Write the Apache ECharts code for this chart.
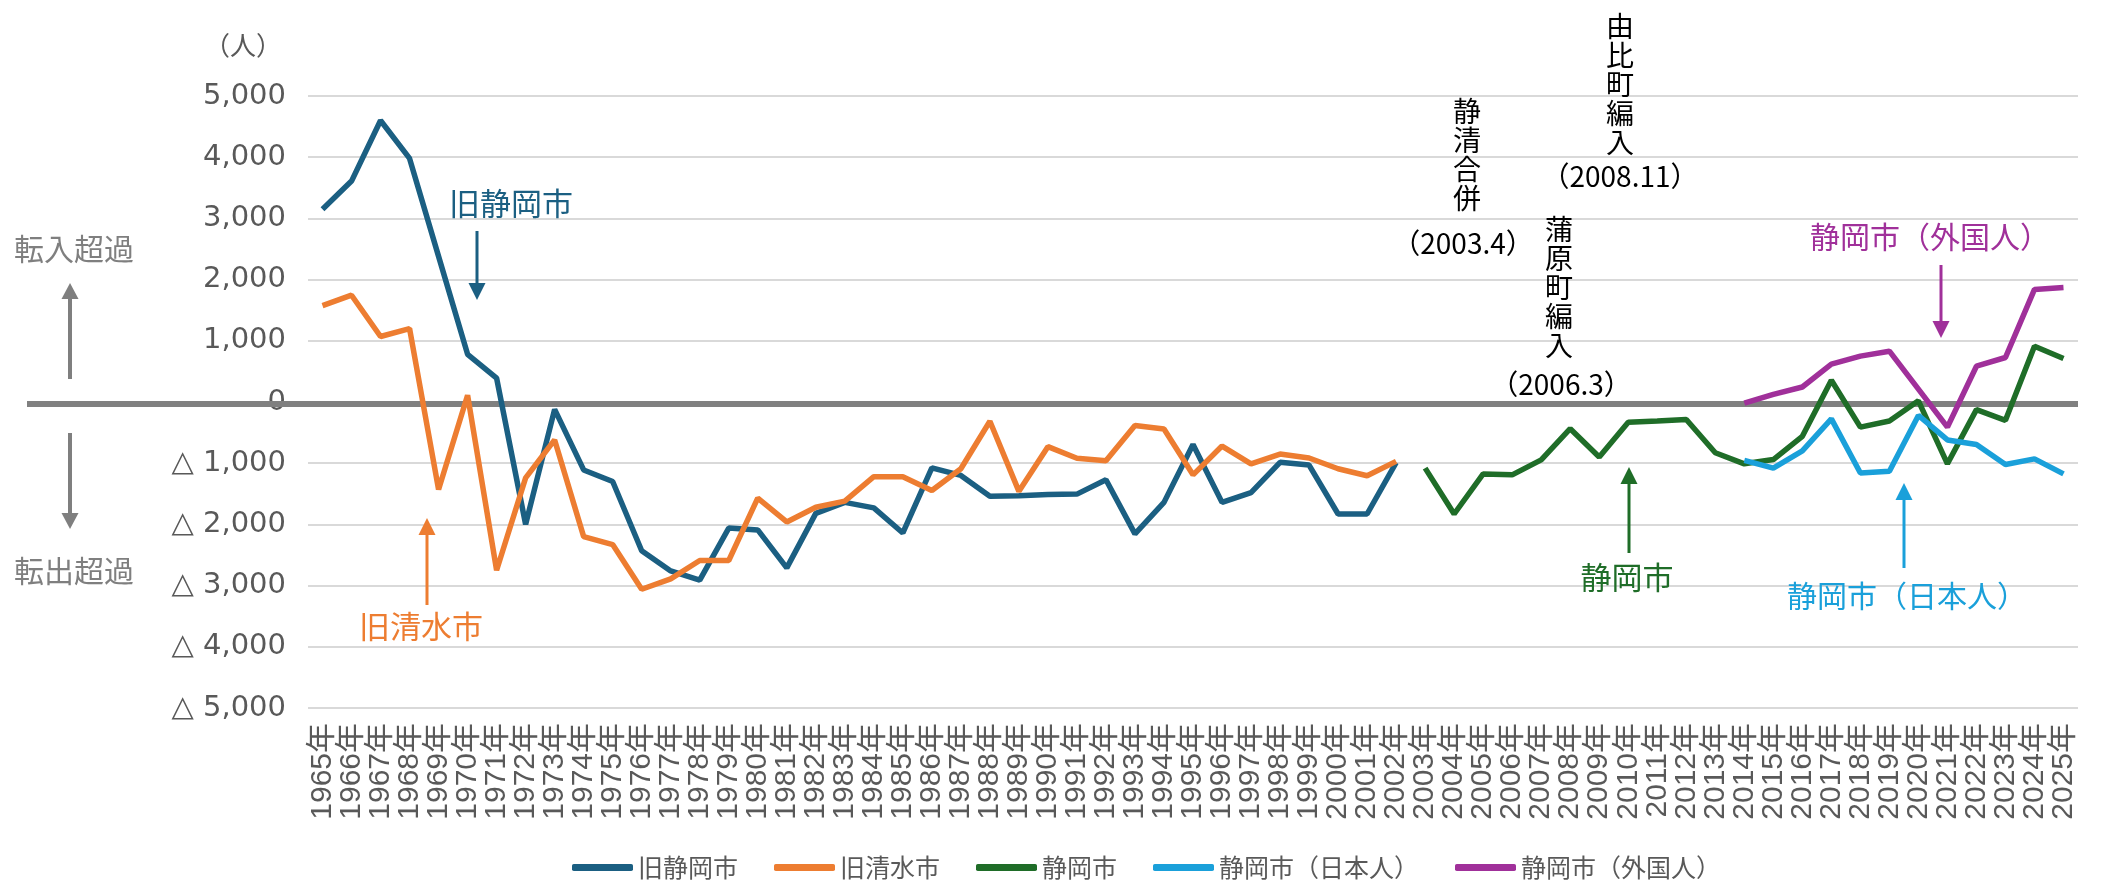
<!DOCTYPE html>
<html>
<head>
<meta charset="utf-8">
<script src="https://cdn.jsdelivr.net/npm/echarts@6/dist/echarts.min.js"></script>
<style>
    html, body { margin: 0; padding: 0; background: #fff; }
    #chart { width: 2121px; height: 883px; }
</style>
</head>
<body>
<div id="chart"></div>
<script>
const years = [
    '1965年', '1966年', '1967年', '1968年', '1969年', '1970年', '1971年', '1972年', '1973年', '1974年',
    '1975年', '1976年', '1977年', '1978年', '1979年', '1980年', '1981年', '1982年', '1983年', '1984年',
    '1985年', '1986年', '1987年', '1988年', '1989年', '1990年', '1991年', '1992年', '1993年', '1994年',
    '1995年', '1996年', '1997年', '1998年', '1999年', '2000年', '2001年', '2002年', '2003年', '2004年',
    '2005年', '2006年', '2007年', '2008年', '2009年', '2010年', '2011年', '2012年', '2013年', '2014年',
    '2015年', '2016年', '2017年', '2018年', '2019年', '2020年', '2021年', '2022年', '2023年', '2024年',
    '2025年'
];

// 1965年〜2002年
const oldShizuoka = [
    3150, 3610, 4600, 3980, 2380, 780, 390, -2000, -120, -1110,
    -1300, -2430, -2760, -2910, -2060, -2090, -2710, -1820, -1640, -1730,
    -2140, -1075, -1200, -1540, -1530, -1510, -1505, -1270, -2155, -1640,
    -695, -1640, -1480, -985, -1030, -1830, -1830, -990
];
// 1965年〜2002年
const oldShimizu = [
    1575, 1745, 1070, 1200, -1430, 110, -2750, -1240, -620, -2200,
    -2330, -3060, -2890, -2590, -2590, -1570, -1960, -1720, -1620, -1220,
    -1220, -1445, -1090, -315, -1460, -730, -920, -960, -385, -440,
    -1190, -720, -1010, -850, -915, -1090, -1205, -970
];
// 2003年〜2025年
const shizuoka = [
    -1080, -1830, -1175, -1190, -945, -437, -900, -330, -310, -285,
    -830, -1010, -940, -560, 355, -410, -310, 20, -1010, -125,
    -300, 910, 710
];
// 2014年〜2025年
const shizuokaJapanese = [-955, -1080, -800, -275, -1160, -1130, -220, -620, -695, -1020, -930, -1175];
const shizuokaForeign = [-20, 125, 245, 620, 750, 830, 210, -410, 585, 727, 1840, 1870];

const yTicks = [-5000, -4000, -3000, -2000, -1000, 0, 1000, 2000, 3000, 4000, 5000];

const names = ['旧静岡市', '旧清水市', '静岡市', '静岡市（日本人）', '静岡市（外国人）'];
const colors = ['#1b5f82', '#ed7d31', '#1f6d28', '#1aa0da', '#a0309a'];

const cjk = '"Noto Sans CJK JP"';
const labelGrey = '#595959';

function place(values, startYear) {
    let start = years.indexOf(startYear + '年');
    return years.map((y, i) => {
        let k = i - start;
        return k >= 0 && k < values.length ? values[k] : null;
    });
}

function fmt(v) {
    if (v === 0) return '0';
    let s = Math.abs(v).toLocaleString('en-US');
    return v < 0 ? '△ ' + s : s;
}

let chart = echarts.init(document.getElementById('chart'));

let seriesData = [
    place(oldShizuoka, 1965),
    place(oldShimizu, 1965),
    place(shizuoka, 2003),
    place(shizuokaJapanese, 2014),
    place(shizuokaForeign, 2014)
];

let option = {
    animation: false,
    grid: { left: 308, right: 43, top: 96, bottom: 175, containLabel: false, outerBoundsMode: 'none' },
    legend: {
        data: names,
        left: 572,
        top: 855,
        padding: 0,
        icon: 'roundRect',
        itemWidth: 61,
        itemHeight: 7,
        itemGap: 36,
        textStyle: { fontSize: 25, color: labelGrey, fontFamily: cjk }
    },
    xAxis: {
        type: 'category',
        data: years,
        boundaryGap: true,
        axisLine: { show: false, onZero: false },
        axisTick: { show: false },
        axisLabel: {
            interval: 0,
            rotate: 90,
            margin: 15,
            fontSize: 30,
            color: labelGrey,
            fontFamily: '"Liberation Sans", ' + cjk
        }
    },
    yAxis: {
        type: 'value',
        min: yTicks[0],
        max: yTicks[yTicks.length - 1],
        interval: 1000,
        axisLine: { show: false },
        axisTick: { show: false },
        splitLine: { lineStyle: { color: '#d9d9d9', width: 2 } },
        axisLabel: {
            margin: 22,
            fontSize: 29,
            color: labelGrey,
            fontFamily: '"DejaVu Sans"',
            formatter: fmt
        }
    },
    series: names.map((n, i) => ({
        name: n,
        type: 'line',
        data: seriesData[i],
        symbol: 'none',
        z: 3,
        lineStyle: { color: colors[i], width: 5.5 },
        itemStyle: { color: colors[i] }
    }))
};
chart.setOption(option);

function arrow(x, yFrom, yTo, color, width, headW, headL) {
    let dir = yTo > yFrom ? 1 : -1;
    let base = yTo - dir * headL;
    return [
        { type: 'line', z: 10, shape: { x1: x, y1: yFrom, x2: x, y2: base }, style: { stroke: color, lineWidth: width } },
        { type: 'polygon', z: 10, shape: { points: [[x - headW / 2, base], [x + headW / 2, base], [x, yTo]] }, style: { fill: color } }
    ];
}

function text(str, x, y, color, size, opts) {
    opts = opts || {};
    return {
        type: 'text', z: 10, x: x, y: y,
        style: {
            text: str,
            fill: color,
            fontSize: size,
            fontFamily: cjk,
            textAlign: 'center',
            textVerticalAlign: opts.va || 'middle',
            lineHeight: opts.lh || size
        }
    };
}

let y0 = chart.convertToPixel({ yAxisIndex: 0 }, 0);

let graphics = [
    { type: 'line', z: 1, shape: { x1: 27, y1: y0 + 2, x2: 2078, y2: y0 + 2 }, style: { stroke: '#808080', lineWidth: 6 } },
    text('（人）', 243, 45, labelGrey, 26),
    text('転入超過', 74, 249, '#7f7f7f', 30),
    text('転出超過', 74, 571, '#7f7f7f', 30),
    ...arrow(70, 379, 283, '#7f7f7f', 4, 17, 16),
    ...arrow(70, 433, 529, '#7f7f7f', 4, 17, 16),

    text('旧静岡市', 511, 203, colors[0], 31),
    ...arrow(477, 231, 300, colors[0], 3, 17, 17),
    text('旧清水市', 421, 626, colors[1], 31),
    ...arrow(427, 605, 518, colors[1], 3, 17, 17),
    text('静岡市', 1627, 577, colors[2], 31),
    ...arrow(1629, 553, 467, colors[2], 3, 17, 17),
    text('静岡市（日本人）', 1907, 596, colors[3], 30),
    ...arrow(1904, 568, 483, colors[3], 3, 17, 17),
    text('静岡市（外国人）', 1930, 237, colors[4], 30),
    ...arrow(1941, 265, 338, colors[4], 3, 17, 17),

    text('静\n清\n合\n併', 1467, 97, '#000', 28, { va: 'top', lh: 29 }),
    text('（2003.4）', 1463, 243, '#000', 28),
    text('由\n比\n町\n編\n入', 1620, 12, '#000', 28, { va: 'top', lh: 29 }),
    text('（2008.11）', 1620, 176, '#000', 28),
    text('蒲\n原\n町\n編\n入', 1559, 215, '#000', 28, { va: 'top', lh: 29 }),
    text('（2006.3）', 1561, 384, '#000', 28)
];

chart.setOption({ graphic: { elements: graphics } });
</script>
</body>
</html>
